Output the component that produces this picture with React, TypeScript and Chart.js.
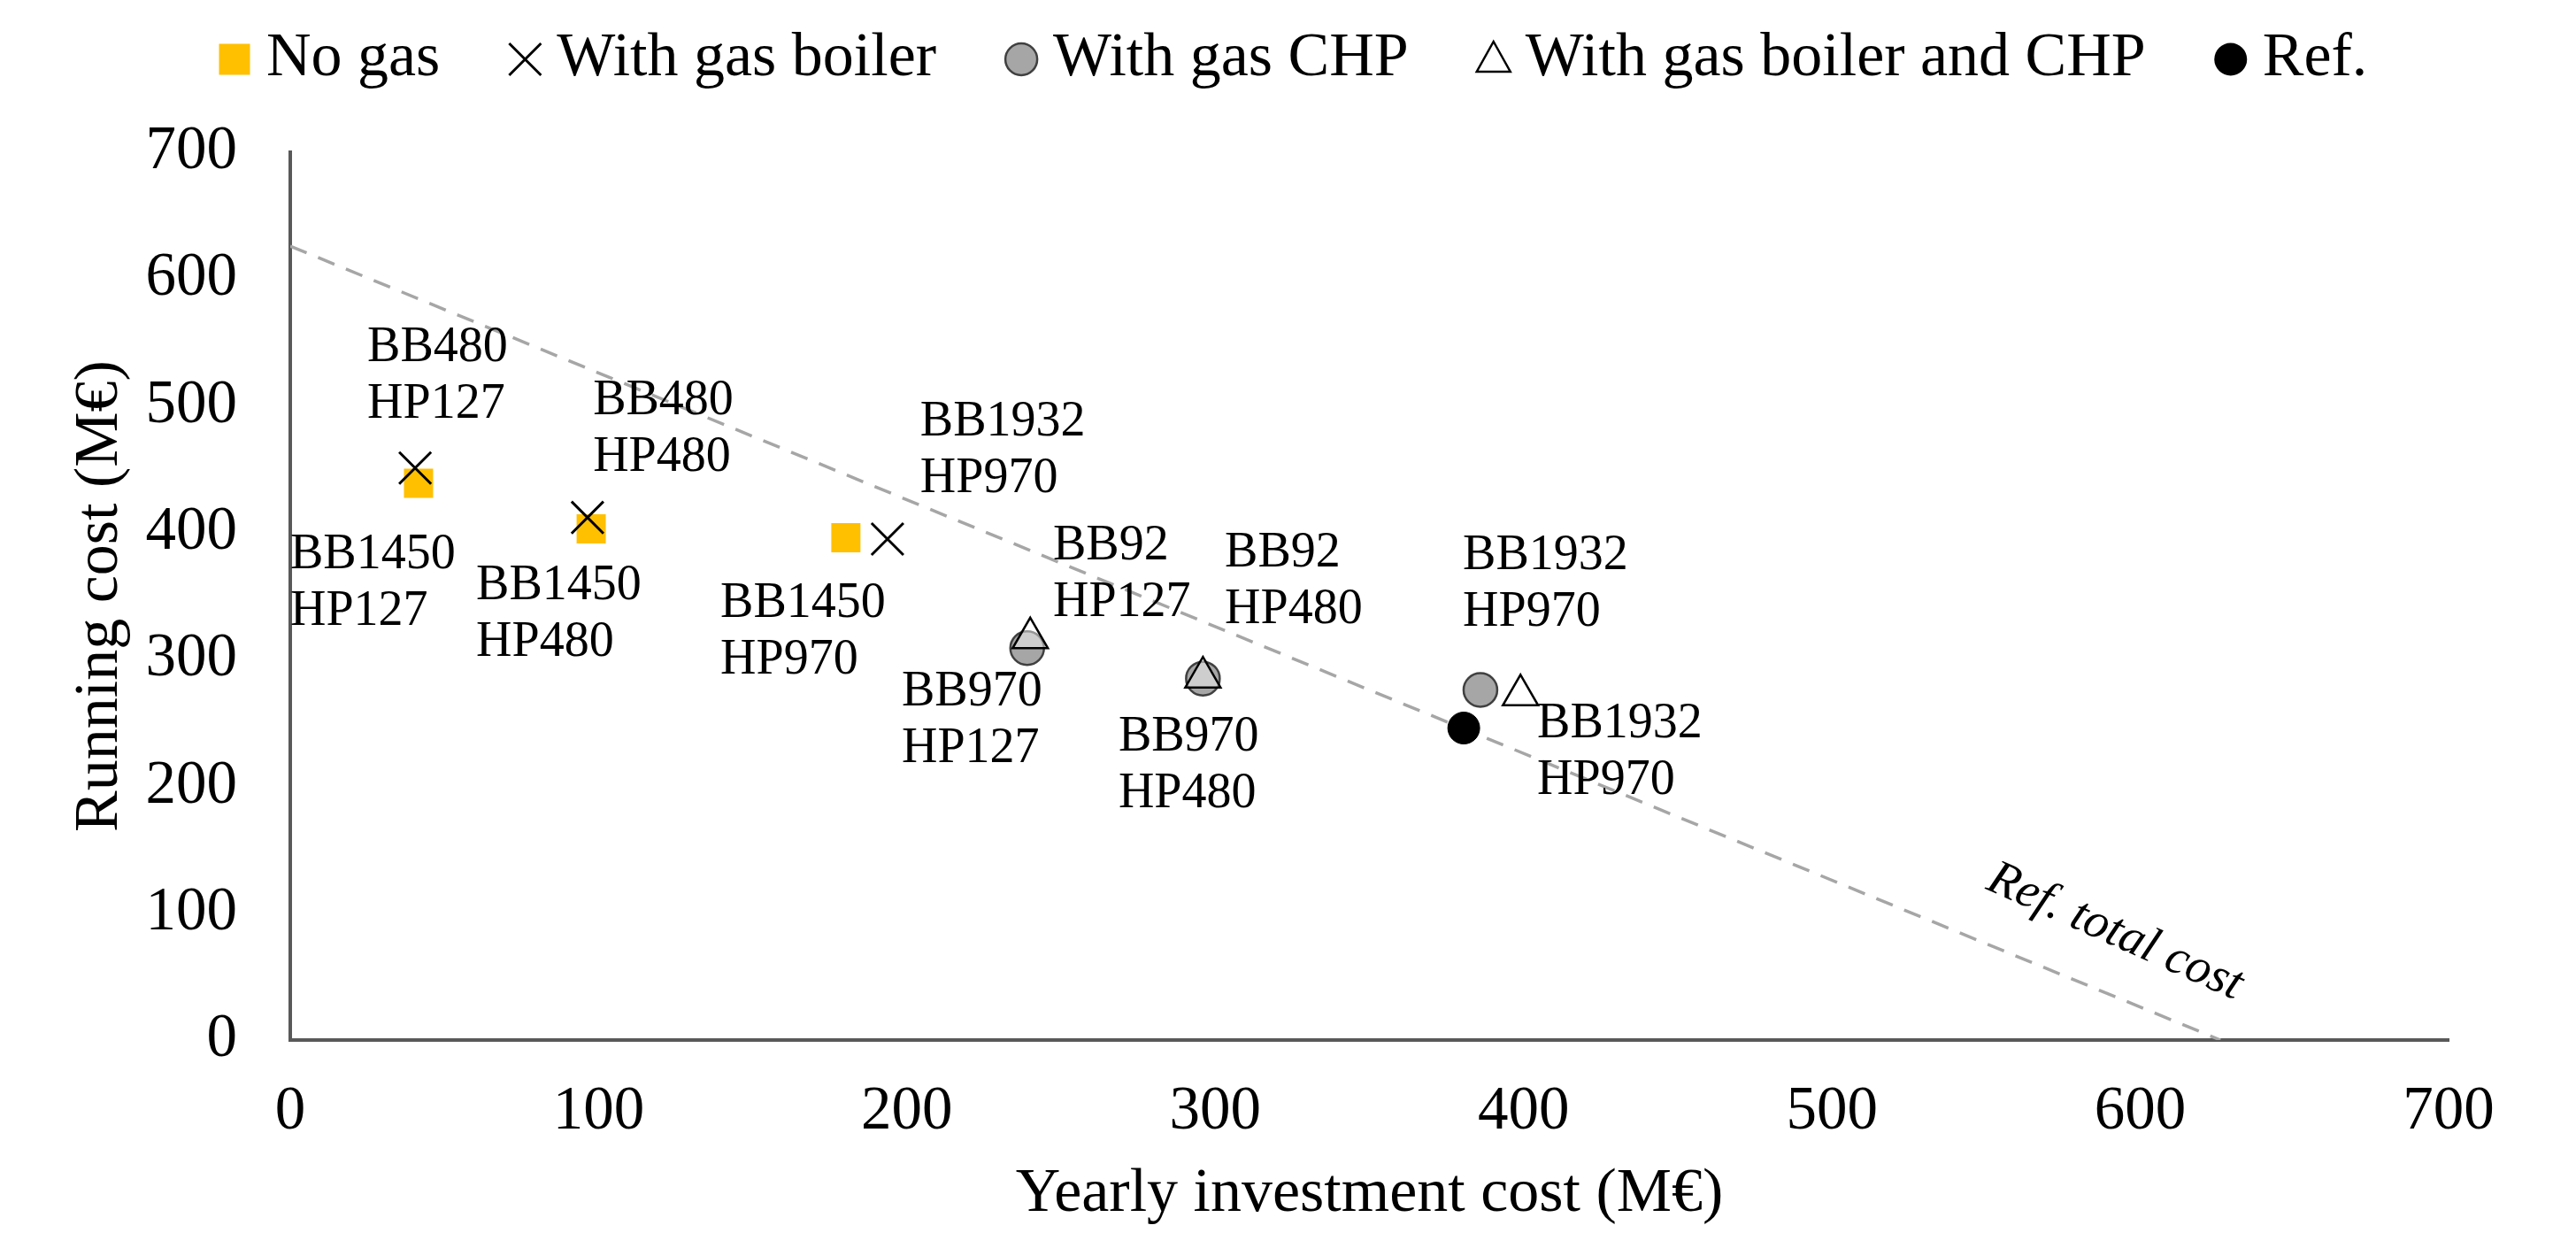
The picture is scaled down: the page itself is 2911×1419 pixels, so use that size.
import React, { useEffect, useRef } from 'react';
import { Chart, registerables } from 'chart.js';

Chart.register(...registerables);

// ---- data ----
const seriesNames = ['No gas', 'With gas boiler', 'With gas CHP', 'With gas boiler and CHP', 'Ref.'];

const noGasX = [41.6, 97.6, 180.2];
const noGasY = [439, 403, 396];

const boilerX = [40.5, 96.4, 193.7];
const boilerY = [451, 412, 395];

const chpX = [239, 296, 386];
const chpY = [309, 285, 276];

const boilerChpX = [240, 296, 399];
const boilerChpY = [317, 286, 272];

const refX = [380.6];
const refY = [246];

// reference total-cost line (investment + running = const)
const refLineX = [0, 626];
const refLineY = [626, 0];
const refLineLabel = 'Ref. total cost';
const refLineLabelX = [591.8];
const refLineLabelY = [85];

// point annotations (anchor: left edge / first line centre, in data units)
const annotationText = [
  ['BB480', 'HP127'],
  ['BB480', 'HP480'],
  ['BB1932', 'HP970'],
  ['BB1450', 'HP127'],
  ['BB1450', 'HP480'],
  ['BB1450', 'HP970'],
  ['BB92', 'HP127'],
  ['BB92', 'HP480'],
  ['BB970', 'HP127'],
  ['BB970', 'HP480'],
  ['BB1932', 'HP970'],
  ['BB1932', 'HP970'],
];
const annotationX = [25.0, 98.2, 204.3, 0, 60.3, 139.5, 247.4, 303.1, 198.3, 268.6, 380.3, 404.4];
const annotationY = [545.7, 503.9, 487.1, 382.4, 358.0, 344.1, 389.4, 383.8, 274.3, 238.7, 381.7, 249.1];

const axisMin = 0;
const axisMax = 700;
const axisStep = 100;
const xTitle = 'Yearly investment cost (M€)';
const yTitle = 'Running cost (M€)';

const toPts = (xs: number[], ys: number[]) => xs.map((x, i) => ({ x, y: ys[i] }));

const FONT = '"Liberation Serif", "Times New Roman", serif';

const overlayPlugin = {
  id: 'overlay',
  afterDatasetsDraw(chart: any) {
    const { ctx, scales } = chart;
    const xs = scales.x;
    const ys = scales.y;
    ctx.save();
    ctx.fillStyle = '#000';
    ctx.font = `56px ${FONT}`;
    ctx.textAlign = 'left';
    ctx.textBaseline = 'middle';
    annotationText.forEach((lines, i) => {
      const px = xs.getPixelForValue(annotationX[i]);
      const py = ys.getPixelForValue(annotationY[i]);
      lines.forEach((t, j) => ctx.fillText(t, px, py + j * 64));
    });
    // reference line label
    const lx = xs.getPixelForValue(refLineLabelX[0]);
    const ly = ys.getPixelForValue(refLineLabelY[0]);
    ctx.translate(lx, ly);
    ctx.rotate((24 * Math.PI) / 180);
    ctx.font = `italic 56px ${FONT}`;
    ctx.textAlign = 'center';
    ctx.fillText(refLineLabel, 0, 0);
    ctx.restore();
  },
  afterDraw(chart: any) {
    const { ctx, chartArea } = chart;
    ctx.save();
    ctx.fillStyle = '#000';
    // axis titles
    ctx.font = `70px ${FONT}`;
    ctx.textAlign = 'center';
    ctx.textBaseline = 'middle';
    ctx.fillText(xTitle, (chartArea.left + chartArea.right) / 2, 1350);
    ctx.save();
    ctx.translate(114, (chartArea.top + chartArea.bottom) / 2);
    ctx.rotate(-Math.PI / 2);
    ctx.fillText(yTitle, 0, 0);
    ctx.restore();

    // legend
    const ly = 67;
    let x = 265;
    ctx.textAlign = 'left';
    seriesNames.forEach((name, i) => {
      ctx.save();
      if (i === 0) {
        ctx.fillStyle = '#FFC000';
        ctx.fillRect(x - 17.5, ly - 17.5, 35, 35);
      } else if (i === 1) {
        ctx.strokeStyle = '#000';
        ctx.lineWidth = 3;
        ctx.beginPath();
        ctx.moveTo(x - 18, ly - 18);
        ctx.lineTo(x + 18, ly + 18);
        ctx.moveTo(x + 18, ly - 18);
        ctx.lineTo(x - 18, ly + 18);
        ctx.stroke();
      } else if (i === 2) {
        ctx.fillStyle = '#A6A6A6';
        ctx.strokeStyle = '#404040';
        ctx.lineWidth = 2.5;
        ctx.beginPath();
        ctx.arc(x, ly, 18, 0, Math.PI * 2);
        ctx.fill();
        ctx.stroke();
      } else if (i === 3) {
        ctx.fillStyle = '#fff';
        ctx.strokeStyle = '#000';
        ctx.lineWidth = 2.5;
        ctx.beginPath();
        ctx.moveTo(x, ly - 20);
        ctx.lineTo(x + 19, ly + 14);
        ctx.lineTo(x - 19, ly + 14);
        ctx.closePath();
        ctx.fill();
        ctx.stroke();
      } else {
        ctx.fillStyle = '#000';
        ctx.beginPath();
        ctx.arc(x, ly, 18.5, 0, Math.PI * 2);
        ctx.fill();
      }
      ctx.restore();
      ctx.font = `70px ${FONT}`;
      ctx.fillStyle = '#000';
      const tx = x + 36;
      ctx.fillText(name, tx, ly);
      x = tx + ctx.measureText(name).width + 96;
    });
    ctx.restore();
  },
};

export default function App() {
  const ref = useRef<HTMLCanvasElement | null>(null);

  useEffect(() => {
    document.body.style.margin = '0';
    document.body.style.overflow = 'hidden';
    const canvas = ref.current;
    if (!canvas) return;

    const tickFont = { family: FONT, size: 69 };
    const axisBorder = { display: true, color: '#595959', width: 4 };

    const chart = new Chart(canvas, {
      type: 'scatter',
      data: {
        datasets: [
          {
            label: 'Ref. total cost',
            type: 'line',
            data: toPts(refLineX, refLineY),
            showLine: true,
            borderColor: '#A6A6A6',
            borderWidth: 3.5,
            borderDash: [20, 14],
            pointRadius: 0,
            fill: false,
            order: 6,
          } as any,
          {
            label: seriesNames[2],
            data: toPts(chpX, chpY),
            pointStyle: 'circle',
            pointRadius: 19,
            backgroundColor: '#A6A6A6',
            borderColor: '#404040',
            borderWidth: 2.5,
            order: 5,
          },
          {
            label: seriesNames[3],
            data: toPts(boilerChpX, boilerChpY),
            pointStyle: 'triangle',
            pointRadius: 23,
            backgroundColor: 'rgba(255,255,255,0.45)',
            borderColor: '#000',
            borderWidth: 2.5,
            order: 4,
          },
          {
            label: seriesNames[0],
            data: toPts(noGasX, noGasY),
            pointStyle: 'rect',
            pointRadius: 23.3,
            backgroundColor: '#FFC000',
            borderColor: '#FFC000',
            borderWidth: 0,
            order: 3,
          },
          {
            label: seriesNames[1],
            data: toPts(boilerX, boilerY),
            pointStyle: 'crossRot',
            pointRadius: 25.5,
            backgroundColor: '#000',
            borderColor: '#000',
            borderWidth: 3,
            order: 2,
          },
          {
            label: seriesNames[4],
            data: toPts(refX, refY),
            pointStyle: 'circle',
            pointRadius: 18,
            backgroundColor: '#000',
            borderColor: '#000',
            borderWidth: 1,
            order: 1,
          },
        ],
      },
      options: {
        responsive: false,
        animation: false,
        events: [],
        layout: { padding: { top: 172, right: 144, bottom: 0, left: 0 } },
        plugins: {
          legend: { display: false },
          tooltip: { enabled: false },
        },
        scales: {
          x: {
            type: 'linear',
            min: axisMin,
            max: axisMax,
            grid: { display: false, drawTicks: false },
            border: axisBorder,
            ticks: { stepSize: axisStep, padding: 40, font: tickFont, color: '#000' },
            afterFit: (s: any) => {
              s.height = 244;
            },
          },
          y: {
            type: 'linear',
            min: axisMin,
            max: axisMax,
            grid: { display: false, drawTicks: false },
            border: axisBorder,
            ticks: { stepSize: axisStep, padding: 60, font: tickFont, color: '#000' },
            afterFit: (s: any) => {
              s.width = 328;
            },
          },
        },
      },
      plugins: [overlayPlugin],
    });

    return () => {
      chart.destroy();
    };
  }, []);

  return <canvas ref={ref} width={2911} height={1419} style={{ display: 'block' }} />;
}
